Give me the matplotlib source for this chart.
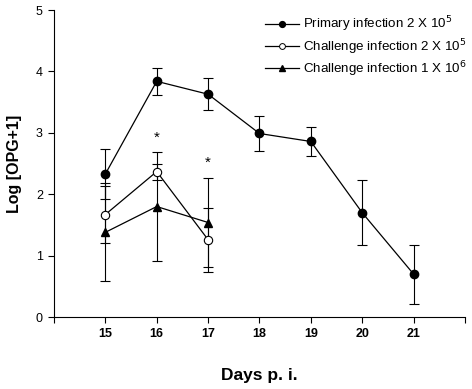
import numpy as np
import matplotlib.pyplot as plt
from matplotlib.lines import Line2D

plt.rcParams['font.family'] = ['Liberation Sans', 'DejaVu Sans']

# Data
days_primary = [15, 16, 17, 18, 19, 20, 21]
primary_mean = [2.33, 3.84, 3.63, 2.99, 2.86, 1.70, 0.70]
primary_err = [0.40, 0.22, 0.26, 0.28, 0.23, 0.53, 0.48]

days_challenge = [15, 16, 17]
chal_2e5_mean = [1.67, 2.37, 1.26]
chal_2e5_err = [0.46, 0.13, 0.52]
chal_1e6_mean = [1.38, 1.80, 1.54]
chal_1e6_err = [0.80, 0.89, 0.72]

star_days = [16, 17]
star_y = [2.92, 2.52]

labels = ['Primary infection 2 X 10$^5$',
          'Challenge infection 2 X 10$^5$',
          'Challenge infection 1 X 10$^6$']

fig = plt.figure(figsize=(4.72, 3.89), dpi=100)
ax = fig.add_axes([0.1144, 0.185, 0.8706, 0.789])

common = dict(color='black', lw=0.9, elinewidth=0.8, capsize=3.3, capthick=0.8,
              markersize=6)
ax.errorbar(days_primary, primary_mean, yerr=primary_err, fmt='-o',
            mfc='black', mec='black', **common)
ax.errorbar(days_challenge, chal_2e5_mean, yerr=chal_2e5_err, fmt='-o',
            mfc='white', mec='black', mew=0.8, **common)
ax.errorbar(days_challenge, chal_1e6_mean, yerr=chal_1e6_err, fmt='-^',
            mfc='black', mec='black', **common)

for d, y in zip(star_days, star_y):
    ax.text(d, y, '*', ha='center', va='center', fontsize=11)

ax.set_xlim(14, 22)
ax.set_ylim(0, 5)
ax.set_xticks(range(14, 23))
ax.set_xticklabels([''] + [str(d) for d in range(15, 22)] + [''],
                   fontweight='bold', fontsize=9)
ax.set_yticks(range(0, 6))
ax.set_yticklabels([str(v) for v in range(0, 6)], fontsize=9)
ax.tick_params(direction='out', length=4, width=0.8, pad=4)
ax.spines['top'].set_visible(False)
ax.spines['right'].set_visible(False)
for s in ['left', 'bottom']:
    ax.spines[s].set_linewidth(0.8)

ax.set_ylabel('Log [OPG+1]', fontsize=11.5, fontweight='bold', labelpad=10)
ax.set_xlabel('Days p. i.', fontsize=12.5, fontweight='bold', labelpad=20)

handles = [
    Line2D([], [], color='black', lw=0.9, marker='o', ms=4.2, mfc='black', mec='black'),
    Line2D([], [], color='black', lw=0.9, marker='o', ms=4.2, mfc='white', mec='black', mew=0.7),
    Line2D([], [], color='black', lw=0.9, marker='^', ms=4.2, mfc='black', mec='black'),
]
fig.legend(handles, labels, loc='upper left', bbox_to_anchor=(258 / 472, 1 - 8 / 389),
           bbox_transform=fig.transFigure, frameon=False, fontsize=9.6,
           borderpad=0, handlelength=2.55, handletextpad=0.35, labelspacing=0.2)

fig.savefig('out.png', dpi=100)
